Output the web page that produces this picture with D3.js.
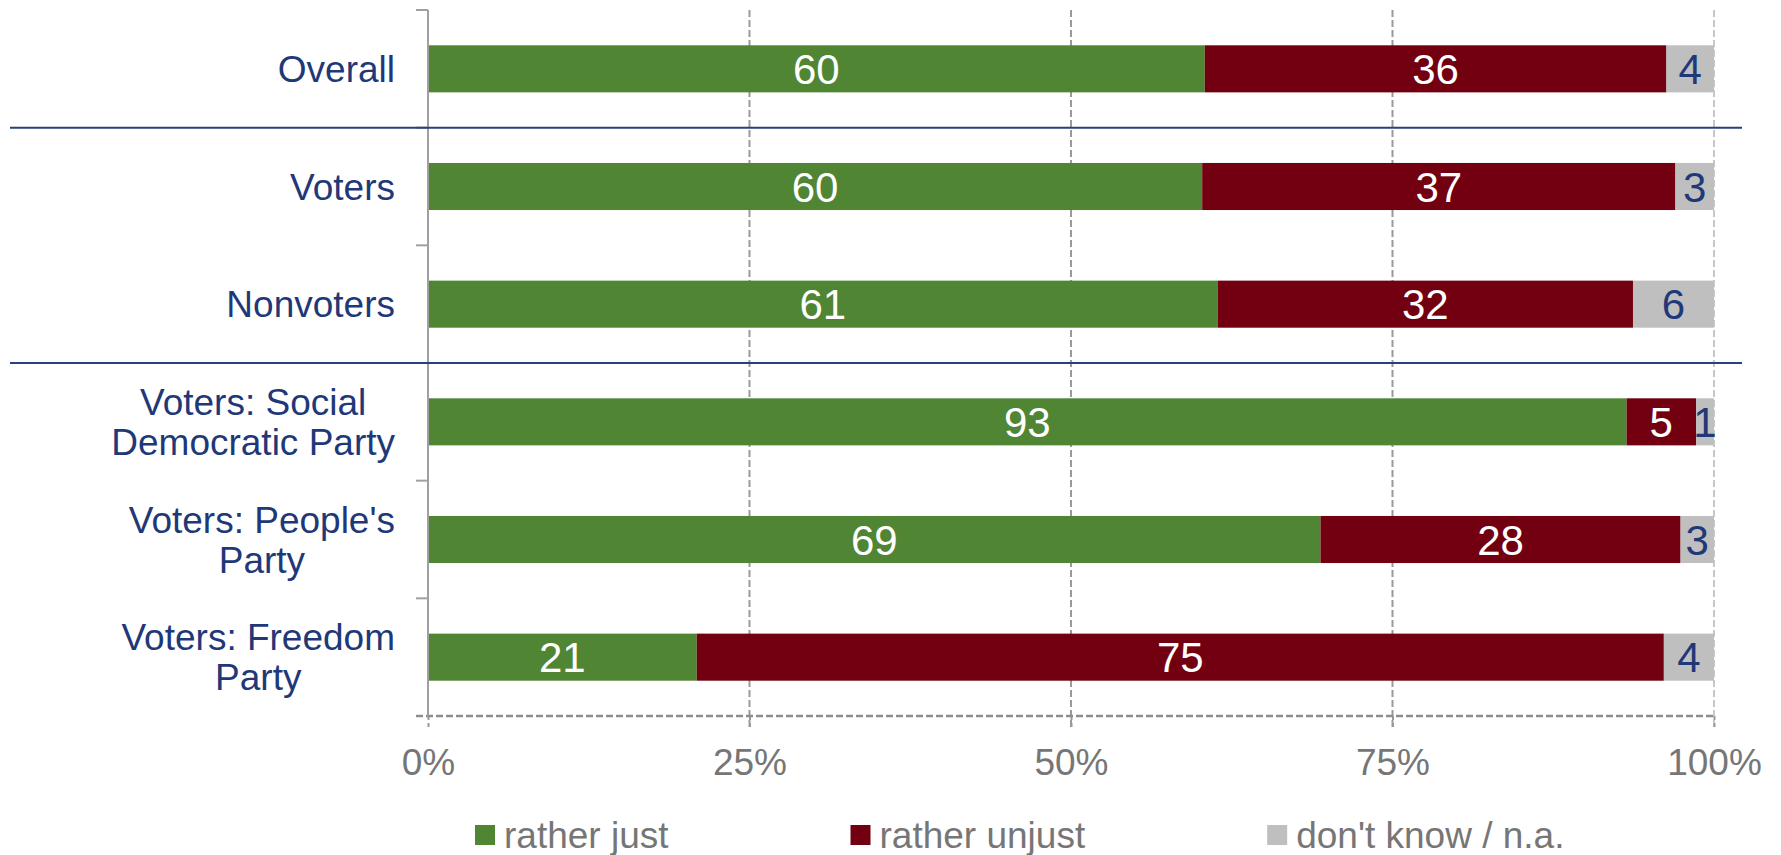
<!DOCTYPE html>
<html>
<head>
<meta charset="utf-8">
<script src="https://cdn.jsdelivr.net/npm/d3@7"></script>
<style>
  html, body { margin: 0; padding: 0; background: #fff; }
  svg { display: block; font-family: "Liberation Sans", Arial, sans-serif; }
</style>
</head>
<body>
<svg id="chart" width="1781" height="855"></svg>
<script>
// ---- data ----
const categories = [
  "Overall",
  "Voters",
  "Nonvoters",
  "Voters: Social\nDemocratic Party",
  "Voters: People's\nParty",
  "Voters: Freedom\nParty"
];
const seriesNames = ["rather just", "rather unjust", "don't know / n.a."];
const ratherJust   = [60.4, 60.2, 61.4, 93.2, 69.4, 20.9];
const ratherUnjust = [35.9, 36.8, 32.3, 5.4, 28.0, 75.2];
const dontKnow     = [3.7, 3.0, 6.3, 1.4, 2.6, 3.9];
const tickValues   = [0, 25, 50, 75, 100];
const separatorsAfter = [0, 2]; // group dividers after these category indices

// ---- layout ----
const svg = d3.select("#chart");
const margin = { left: 428, right: 1781 - 1714, top: 10, bottom: 855 - 716 };
const W = 1781, H = 855;
const innerW = W - margin.left - margin.right;
const innerH = H - margin.top - margin.bottom;
const colors = ["#508534", "#720010", "#bfbfbf"];
const labelColors = ["#ffffff", "#ffffff", "#1f3877"];
const navy = "#1f3877";
const grey = "#767676";
const fs = 37;
const fsBar = 42;

const x = d3.scaleLinear().domain([0, 100]).range([0, innerW]);
const y = d3.scaleBand().domain(categories).range([0, innerH]).paddingInner(0.6).paddingOuter(0.3);
const step = y.step();

const g = svg.append("g").attr("transform", `translate(${margin.left},${margin.top})`);

// vertical gridlines
g.append("g").selectAll("line").data(tickValues.filter(d => d > 0)).join("line")
  .attr("x1", d => x(d)).attr("x2", d => x(d))
  .attr("y1", 0).attr("y2", innerH + 11)
  .attr("stroke", d => d === 100 ? "#c8c8c8" : "#9a9a9a")
  .attr("stroke-width", 2)
  .attr("stroke-dasharray", "7,3");

// bottom axis (dashed) with tick labels
const xAxis = d3.axisBottom(x).tickValues(tickValues).tickFormat(d => d + "%").tickSize(11).tickPadding(22);
const xa = g.append("g").attr("transform", `translate(0,${innerH})`).call(xAxis);
xa.select(".domain").remove();
xa.selectAll(".tick line").attr("stroke", "#9a9a9a").attr("stroke-width", 2).attr("stroke-dasharray", "4,3");
xa.selectAll(".tick text").attr("fill", grey).attr("font-size", fs).attr("font-family", "Liberation Sans, Arial, sans-serif");
g.append("line")
  .attr("x1", -12).attr("x2", innerW)
  .attr("y1", innerH).attr("y2", innerH)
  .attr("stroke", "#8c8c8c").attr("stroke-width", 2.5).attr("stroke-dasharray", "7,3");

// stacked data
const rows = categories.map((c, i) => ({ cat: c, v: [ratherJust[i], ratherUnjust[i], dontKnow[i]] }));
const stackData = rows.map(r => {
  let acc = 0;
  return r.v.map((v, k) => { const s = { cat: r.cat, k, x0: acc, x1: acc + v, v }; acc += v; return s; });
}).flat();

g.append("g").selectAll("rect").data(stackData).join("rect")
  .attr("x", d => x(d.x0))
  .attr("width", d => x(d.x1) - x(d.x0))
  .attr("y", d => y(d.cat))
  .attr("height", y.bandwidth())
  .attr("fill", d => colors[d.k]);

g.append("g").selectAll("text").data(stackData).join("text")
  .attr("x", d => (x(d.x0) + x(d.x1)) / 2)
  .attr("y", d => y(d.cat) + y.bandwidth() / 2)
  .attr("dy", "0.36em")
  .attr("text-anchor", "middle")
  .attr("font-size", fsBar)
  .attr("fill", d => labelColors[d.k])
  .text(d => Math.round(d.v));

// left axis: solid line with ticks at band boundaries
g.append("line").attr("x1", 0).attr("x2", 0).attr("y1", 0).attr("y2", innerH)
  .attr("stroke", "#a0a0a0").attr("stroke-width", 2);
const boundaries = d3.range(categories.length + 1).map(i => i * step);
g.append("g").selectAll("line").data(boundaries.slice(0, -1)).join("line")
  .attr("x1", -12).attr("x2", 0)
  .attr("y1", d => d).attr("y2", d => d)
  .attr("stroke", "#a0a0a0").attr("stroke-width", 2);

// category labels: block right-aligned, lines centred within the block
const labelRight = -33;
const lh = 40;
const catLabels = g.append("g").selectAll("text").data(categories).join("text")
  .attr("font-size", fs)
  .attr("fill", navy)
  .attr("y", d => y(d) + y.bandwidth() / 2);
catLabels.each(function(d) {
  const lines = d.split("\n");
  const t = d3.select(this);
  const spans = lines.map((ln, i) => t.append("tspan")
      .attr("dy", i === 0 ? (0.36 * fs - (lines.length - 1) * lh / 2) + "px" : lh + "px")
      .text(ln));
  if (lines.length === 1) {
    t.attr("text-anchor", "end");
    spans[0].attr("x", labelRight);
  } else {
    const maxW = d3.max(spans, s => s.node().getComputedTextLength());
    t.attr("text-anchor", "middle");
    spans.forEach(s => s.attr("x", labelRight - maxW / 2));
  }
});

// group separators
svg.append("g").selectAll("line").data(separatorsAfter).join("line")
  .attr("x1", 10).attr("x2", 1742)
  .attr("y1", d => margin.top + (d + 1) * step)
  .attr("y2", d => margin.top + (d + 1) * step)
  .attr("stroke", "#2a3f80").attr("stroke-width", 2);

// legend
const legend = svg.append("g").attr("transform", "translate(475,835)");
let lx = 0;
seriesNames.forEach((name, i) => {
  const item = legend.append("g").attr("transform", `translate(${lx},0)`);
  item.append("rect").attr("x", 0).attr("y", -10).attr("width", 20).attr("height", 20).attr("fill", colors[i]);
  const t = item.append("text").attr("x", 29).attr("y", 0).attr("dy", "0.36em")
    .attr("font-size", fs).attr("fill", grey).text(name);
  lx += 29 + t.node().getComputedTextLength() + 182;
});
</script>
</body>
</html>
